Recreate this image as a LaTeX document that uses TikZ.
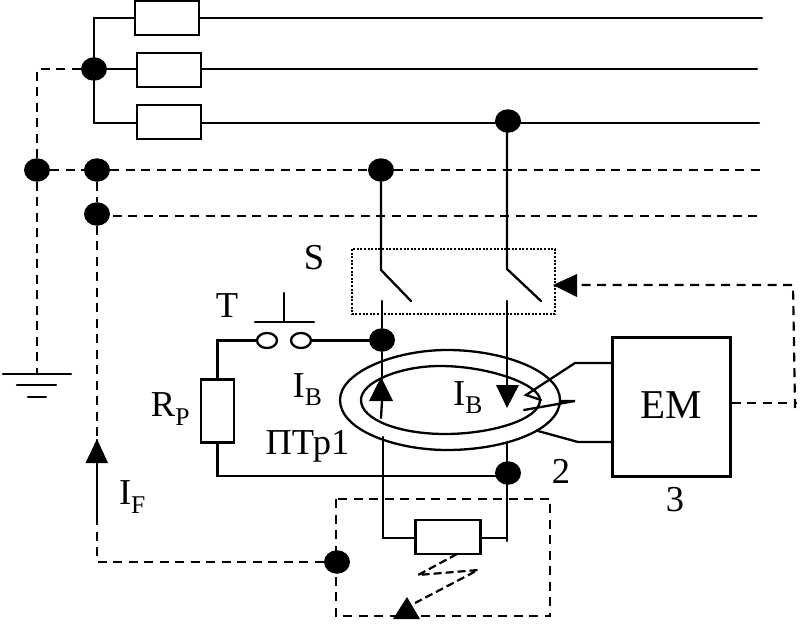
\documentclass[tikz,border=0pt]{standalone}
\usepackage{fontspec}
\setmainfont{Liberation Serif}
\usetikzlibrary{shapes.geometric}
\tikzset{
  wire/.style={line width=2.3pt,line cap=round},
  dwire/.style={line width=2.2pt,dash pattern=on 9pt off 6.5pt},
  res/.style={draw,line width=2.3pt,minimum width=64pt,minimum height=34pt,inner sep=0pt,fill=white},
  dot/.style={ellipse,fill=black,minimum width=26pt,minimum height=23.5pt,inner sep=0pt},
  contact/.style={draw,ellipse,line width=2.3pt,minimum width=20pt,minimum height=15pt,inner sep=0pt,fill=white},
  lbl/.style={inner sep=0pt,font=\fontsize{36.5}{36.5}\selectfont},
}
\begin{document}
\begin{tikzpicture}[x=1pt,y=-1pt]
\useasboundingbox (0,0) rectangle (801,624);
\coordinate (r1l) at (97,18); \coordinate (r1e) at (762,18);
\coordinate (r2e) at (757,69); \coordinate (r3e) at (759,123);
\coordinate (bus1l) at (37,69); \coordinate (d1e) at (762,170); \coordinate (d2e) at (757,216);
\node[res] (R1) at (167,18) {};
\node[res] (R2) at (169,70) {};
\node[res] (R3) at (169,122) {};
\node[dot] (J1) at (94,69) {};
\node[dot] (J2) at (508,121) {};
\node[dot] (G1) at (37,170) {};
\node[dot] (N1) at (97,170) {};
\node[dot] (N2) at (381,170) {};
\node[dot] (N3) at (97,214) {};
\node[dot] (K1) at (382,340) {};
\node[dot] (K2) at (508,473) {};
\node[dot] (K3) at (337,562) {};
% phases
\coordinate (J1t) at (94,18); \coordinate (J1b) at (94,123);
\draw[wire] (J1t)--(J1b);
\draw[wire] (J1t)--(r1l)--(R1.west |- r1l); \draw[wire] (R1.east |- r1e)--(r1e);
\draw[wire] (J1)--(R2.west |- J1); \draw[wire] (R2.east |- r2e)--(r2e);
\draw[wire] (J1b)--(R3.west |- J1b); \draw[wire] (R3.east |- r3e)--(r3e);
% dashed
\draw[dwire] (J1)--(bus1l)--(G1);
\coordinate (gt) at (37,374);
\draw[dwire] (G1)--(gt);
\draw[wire] (3,374)--(71,374); \draw[wire] (17,385)--(56,385); \draw[wire] (28,397)--(46,397);
\draw[dwire] (G1)--(N1); \draw[dwire] (N1)--(N2); \draw[dwire] (N2)--(d1e);
\draw[dwire] (N1)--(N3); \draw[dwire] (N3 |- d2e)--(d2e);
\coordinate (fa) at (97,440); \coordinate (fb) at (97,516); \coordinate (fc) at (97,562);
\draw[dwire] (N3)--(fa);
\draw[wire] (fa)--(fb);
\fill (97,439)--(85.5,463)--(108,463)--cycle;
\draw[dwire] (fb)--(fc)--(K3);
% switch box
\draw[line width=2.2pt,dash pattern=on 2pt off 1.6pt] (352,249) rectangle (555,314);
\coordinate (s1a) at (381,270); \coordinate (s1b) at (411,301); \coordinate (s1c) at (382,301);
\coordinate (s2a) at (507,269); \coordinate (s2b) at (541,301); \coordinate (s2c) at (507,301);
\draw[wire] (N2)--(s1a)--(s1b);
\draw[wire] (s2a |- J2)--(s2a)--(s2b);
\draw[wire] (s1c)--(K1);
% secondary
\node[res,minimum width=33pt,minimum height=63pt] (RP) at (217.5,411) {};
\node[contact] (C1) at (267,340.5) {};
\node[contact] (C2) at (301,340.5) {};
\draw[wire] (C1.west)--(RP.north |- C1)--(RP.north);
\draw[wire] (C2)--(K1 |- C2);
\coordinate (sb) at (217,476);
\draw[wire] (RP.south)--(RP.south |- sb)--(K2 |- sb);
\draw[wire] (255,322)--(314,322); \draw[wire] (284,293)--(284,322);
% toroid
\draw[wire] (340,400) .. controls (340,372) and (395,350) .. (447,350) .. controls (505,350) and (560,372) .. (560,400) .. controls (560,430) and (505,450) .. (447,450) .. controls (395,450) and (340,430) .. (340,400) -- cycle;
\draw[wire] (361,400) .. controls (361,382) and (400,366) .. (440,366) .. controls (490,366) and (540,385) .. (540,400) .. controls (540,420) and (490,434) .. (445,434) .. controls (400,434) and (361,420) .. (361,400) -- cycle;
% through wires
\draw[wire] (K1)--(382,380);
\fill (381,377)--(369,401)--(393,401)--cycle;
\draw[wire] (382,401)--(381,418);
\draw[wire] (383,437)--(383,538);
\draw[wire] (s2c)--(507,385);
\fill (496,385)--(519,385)--(507,408)--cycle;
\draw[wire] (507,443)--(507,541);
% EM
\node[draw,line width=2.3pt,minimum width=118pt,minimum height=139pt,inner sep=0pt,fill=white] (EM) at (671.5,407) {};
\node[lbl,font=\fontsize{41}{41}\selectfont] at (671,405) (emt) {EM};
\coordinate (e1) at (612,363); \coordinate (e2) at (575,363); \coordinate (e3) at (526,395); \coordinate (e4) at (541,400);
\draw[wire] (EM.west |- e1)--(e2)--(e3)--(e4);
\coordinate (f1) at (524,410); \coordinate (f2) at (575,401); \coordinate (f3) at (560,401);
\draw[wire] (f1)--(f2)--(f3);
\coordinate (h1) at (538,431); \coordinate (h2) at (578,442);
\draw[wire] (h1)--(h2)--(EM.west |- h2);
% feedback
\coordinate (fb0) at (797,403); \coordinate (fb1) at (795,408); \coordinate (fb2) at (793,285); \coordinate (fb3) at (578,285);
\draw[dwire] (EM.east |- fb0)--(fb0);
\draw[dwire] (fb1)--(fb2)--(fb3);
\fill (553,285)--(577,274)--(577,297)--cycle;
% shunt
\node[res,minimum width=65pt,minimum height=34pt] (RV) at (448,537) {};
\draw[wire] (383,538)--(RV.west |- 383,538); \draw[wire] (RV.east |- 507,538)--(507,538);
\draw[dwire] (336,499) rectangle (550,616);
\coordinate (z1) at (457,554); \coordinate (z2) at (418,575); \coordinate (z3) at (478,570); \coordinate (z4) at (415,603);
\draw[line width=2.2pt,dash pattern=on 8pt off 4pt] (z1)--(z2)--(z3)--(z4);
\fill (407,597)--(393,619)--(420,619)--cycle;
% labels
\node[lbl] (tS) at (314,258) {S};
\node[lbl] (tT) at (227,306) {T};
\node[lbl] (tRP) at (170.5,409) {R\textsubscript{P}};
\node[lbl] (tIB1) at (307.5,390) {I\textsubscript{B}};
\node[lbl] (tIB2) at (468,398) {I\textsubscript{B}};
\node[lbl] (tPT) at (307.5,446) {ПТр1};
\node[lbl] (t2) at (561,471) {2};
\node[lbl] (t3) at (675,500) {3};
\node[lbl] (tIF) at (132.5,497) {I\textsubscript{F}};
\end{tikzpicture}
\end{document}
